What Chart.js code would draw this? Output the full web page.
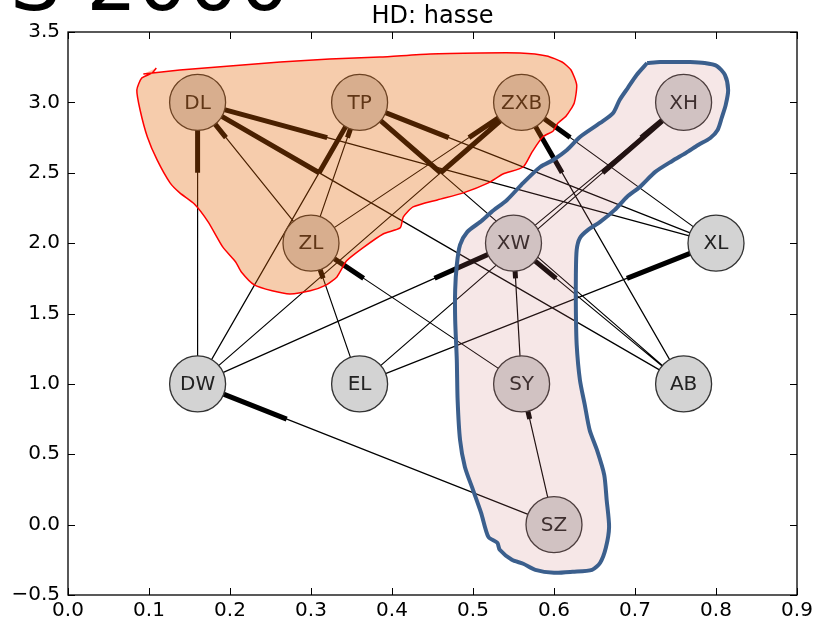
<!DOCTYPE html>
<html>
<head>
<meta charset="utf-8">
<script src="https://cdn.jsdelivr.net/npm/chart.js@4.4.0/dist/chart.umd.min.js"></script>
<style>
  html, body { margin: 0; padding: 0; background: #fff; }
</style>
</head>
<body>
<canvas id="myChart" width="819" height="623"></canvas>
<script>
// nodes of the graph
var nodeNames = ['DL', 'TP', 'ZXB', 'XH', 'ZL', 'XW', 'XL', 'DW', 'EL', 'SY', 'AB', 'SZ'];
var nodeX = [0.16, 0.36, 0.56, 0.76, 0.30, 0.55, 0.80, 0.16, 0.36, 0.56, 0.76, 0.60];
var nodeY = [3.0, 3.0, 3.0, 3.0, 2.0, 2.0, 2.0, 1.0, 1.0, 1.0, 1.0, 0.0];

// directed edges, arrow (thick stub) at the target end
var edgeFrom = ['DW', 'ZL', 'XL', 'AB', 'DW', 'XL', 'AB', 'ZL', 'ZL', 'DW', 'AB', 'XL',
                'EL', 'XW', 'DW', 'AB', 'SY', 'SY', 'EL', 'EL', 'SZ', 'SZ'];
var edgeTo   = ['DL', 'DL', 'DL', 'DL', 'TP', 'TP', 'TP', 'TP', 'ZXB', 'ZXB', 'ZXB', 'ZXB',
                'XH', 'XH', 'XW', 'XW', 'XW', 'ZL', 'ZL', 'XL', 'SY', 'DW'];

var xTicks = [0.0, 0.1, 0.2, 0.3, 0.4, 0.5, 0.6, 0.7, 0.8, 0.9];
var xTickLabels = ['0.0', '0.1', '0.2', '0.3', '0.4', '0.5', '0.6', '0.7', '0.8', '0.9'];
var yTicks = [-0.5, 0.0, 0.5, 1.0, 1.5, 2.0, 2.5, 3.0, 3.5];
var yTickLabels = ['\u22120.5', '0.0', '0.5', '1.0', '1.5', '2.0', '2.5', '3.0', '3.5'];

// hand drawn group outlines
var orangeX = [0.093, 0.138, 0.200, 0.262, 0.323, 0.385, 0.447, 0.509, 0.558, 0.591, 0.610, 0.621, 0.628,
               0.625, 0.615, 0.604, 0.599, 0.586, 0.573, 0.562, 0.537, 0.519, 0.488, 0.456, 0.426, 0.414,
               0.410, 0.389, 0.364, 0.344, 0.332, 0.319, 0.299, 0.274, 0.252, 0.230, 0.214, 0.207, 0.191,
               0.173, 0.156, 0.138, 0.126, 0.110, 0.098, 0.089, 0.085, 0.091, 0.104, 0.109];
var orangeY = [3.202, 3.230, 3.259, 3.287, 3.308, 3.322, 3.344, 3.351, 3.351, 3.330, 3.287, 3.230, 3.124,
               2.996, 2.903, 2.847, 2.797, 2.754, 2.648, 2.541, 2.491, 2.428, 2.357, 2.307, 2.257, 2.186,
               2.108, 2.065, 1.966, 1.874, 1.760, 1.703, 1.661, 1.639, 1.661, 1.703, 1.795, 1.866, 1.973,
               2.151, 2.278, 2.357, 2.428, 2.591, 2.754, 2.946, 3.088, 3.173, 3.209, 3.244];

var blueX = [0.715, 0.731, 0.747, 0.768, 0.786, 0.801, 0.811, 0.815, 0.812, 0.807, 0.802, 0.793, 0.778,
             0.763, 0.746, 0.725, 0.706, 0.690, 0.675, 0.657, 0.642, 0.632, 0.628, 0.627, 0.627, 0.628,
             0.632, 0.638, 0.644, 0.653, 0.662, 0.665, 0.668, 0.664, 0.657, 0.647, 0.623, 0.600, 0.577,
             0.562, 0.548, 0.533, 0.530, 0.519, 0.510, 0.500, 0.490, 0.484, 0.481, 0.480, 0.478, 0.478,
             0.480, 0.484, 0.493, 0.509, 0.523, 0.542, 0.562, 0.583, 0.599, 0.616, 0.632, 0.657, 0.673,
             0.681, 0.691, 0.702, 0.715];
var blueY = [3.280, 3.287, 3.287, 3.287, 3.280, 3.259, 3.195, 3.088, 2.982, 2.889, 2.804, 2.747, 2.697,
             2.641, 2.584, 2.506, 2.399, 2.328, 2.236, 2.151, 2.094, 2.037, 1.952, 1.774, 1.526, 1.277,
             1.028, 0.851, 0.673, 0.531, 0.354, 0.176, -0.016, -0.165, -0.271, -0.321, -0.335, -0.342, -0.321,
             -0.278, -0.250, -0.179, -0.129, -0.087, 0.084, 0.247, 0.410, 0.602, 0.886, 1.170, 1.455, 1.668,
             1.845, 1.987, 2.080, 2.151, 2.222, 2.307, 2.428, 2.541, 2.591, 2.662, 2.754, 2.854, 2.925,
             3.017, 3.102, 3.195, 3.280];

function nodePos(name) {
  var i = nodeNames.indexOf(name);
  return {x: nodeX[i], y: nodeY[i]};
}

var edgeData = [];
var arrowData = [];
for (var i = 0; i < edgeFrom.length; i++) {
  var a = nodePos(edgeFrom[i]);
  var b = nodePos(edgeTo[i]);
  edgeData.push(a, b, {x: b.x, y: null});
  arrowData.push({x: a.x + 0.75 * (b.x - a.x), y: a.y + 0.75 * (b.y - a.y)}, b, {x: b.x, y: null});
}
var nodeData = nodeNames.map(function(n, i) { return {x: nodeX[i], y: nodeY[i]}; });
var orangeData = orangeX.map(function(v, i) { return {x: v, y: orangeY[i]}; });
var blueData = blueX.map(function(v, i) { return {x: v, y: blueY[i]}; });

var NODE_SET = 2;

var nodeLabels = {
  id: 'nodeLabels',
  afterDatasetDraw: function(chart, args) {
    if (args.index !== NODE_SET) return;
    var ctx = chart.ctx;
    ctx.save();
    ctx.font = '20px "DejaVu Sans"';
    ctx.fillStyle = '#222';
    ctx.textAlign = 'center';
    ctx.textBaseline = 'middle';
    args.meta.data.forEach(function(pt, i) {
      ctx.fillText(nodeNames[i], pt.x, pt.y + 1);
    });
    ctx.restore();
  }
};

var frame = {
  id: 'frame',
  afterDraw: function(chart) {
    var ctx = chart.ctx, a = chart.chartArea;
    var xs = chart.scales.x, ys = chart.scales.y;
    ctx.save();
    ctx.strokeStyle = '#000';
    ctx.lineWidth = 1;
    ctx.beginPath();
    xTicks.forEach(function(v) {
      var px = Math.round(xs.getPixelForValue(v)) + 0.5;
      ctx.moveTo(px, a.bottom); ctx.lineTo(px, a.bottom - 7);
      ctx.moveTo(px, a.top); ctx.lineTo(px, a.top + 7);
    });
    yTicks.forEach(function(v) {
      var py = Math.round(ys.getPixelForValue(v)) + 0.5;
      ctx.moveTo(a.left, py); ctx.lineTo(a.left + 7, py);
      ctx.moveTo(a.right, py); ctx.lineTo(a.right - 7, py);
    });
    ctx.stroke();
    ctx.lineWidth = 1.3;
    ctx.strokeRect(a.left, a.top, a.right - a.left, a.bottom - a.top);
    // big heading, cut by the top edge
    ctx.fillStyle = '#000';
    ctx.font = '80px "DejaVu Sans"';
    ctx.textAlign = 'left';
    ctx.textBaseline = 'alphabetic';
    ctx.fillText('S 2000', 10, 10);
    ctx.restore();
  }
};

var canvas = document.getElementById('myChart');
var ctx = canvas.getContext('2d');
Chart.defaults.font.family = 'DejaVu Sans';
Chart.defaults.color = '#000';

var config = {
  type: 'scatter',
  data: {
    datasets: [{
      label: 'edges',
      data: edgeData,
      showLine: true,
      spanGaps: false,
      borderColor: '#000',
      borderWidth: 1.2,
      pointRadius: 0,
      order: 5
    }, {
      label: 'arrows',
      data: arrowData,
      showLine: true,
      spanGaps: false,
      borderColor: '#000',
      borderWidth: 5,
      borderCapStyle: 'butt',
      pointRadius: 0,
      order: 4
    }, {
      label: 'nodes',
      data: nodeData,
      showLine: false,
      pointRadius: 28,
      pointBackgroundColor: '#d3d3d3',
      pointBorderColor: '#333',
      pointBorderWidth: 1.3,
      order: 3
    }, {
      label: 'group2',
      data: blueData,
      showLine: true,
      fill: 'shape',
      tension: 0.25,
      backgroundColor: 'rgba(200, 115, 115, 0.17)',
      borderColor: '#3b5f8d',
      borderWidth: 4,
      pointRadius: 0,
      order: 2
    }, {
      label: 'group1',
      data: orangeData,
      showLine: true,
      fill: 'shape',
      tension: 0.2,
      backgroundColor: 'rgba(228, 98, 0, 0.325)',
      borderColor: '#ff0000',
      borderWidth: 1.5,
      pointRadius: 0,
      order: 1
    }]
  },
  options: {
    responsive: false,
    animation: false,
    devicePixelRatio: 1,
    events: [],
    layout: { autoPadding: false, padding: { left: 0, right: 22, top: 0, bottom: 0 } },
    plugins: {
      legend: { display: false },
      tooltip: { enabled: false },
      title: {
        display: true,
        text: 'HD: hasse',
        fullSize: false,
        color: '#000',
        font: { size: 24, weight: 'normal', lineHeight: 1 },
        padding: { top: 5, bottom: 3 }
      }
    },
    scales: {
      x: {
        type: 'linear',
        min: 0,
        max: 0.9,
        grid: { display: false, drawTicks: false },
        border: { display: false },
        afterBuildTicks: function(s) { s.ticks = xTicks.map(function(v) { return {value: v}; }); },
        afterFit: function(s) { s.height = 28; s.paddingLeft = 0; s.paddingRight = 0; },
        ticks: {
          autoSkip: false,
          maxRotation: 0,
          padding: 4,
          font: { size: 20 },
          callback: function(v, i) { return xTickLabels[i]; }
        }
      },
      y: {
        type: 'linear',
        min: -0.5,
        max: 3.5,
        grid: { display: false, drawTicks: false },
        border: { display: false },
        afterBuildTicks: function(s) { s.ticks = yTicks.map(function(v) { return {value: v}; }); },
        afterFit: function(s) { s.width = 68; s.paddingTop = 0; s.paddingBottom = 0; },
        ticks: {
          autoSkip: false,
          padding: 8,
          font: { size: 20 },
          callback: function(v, i) { return yTickLabels[i]; }
        }
      }
    }
  },
  plugins: [nodeLabels, frame]
};

var chart = new Chart(ctx, config);
</script>
</body>
</html>
